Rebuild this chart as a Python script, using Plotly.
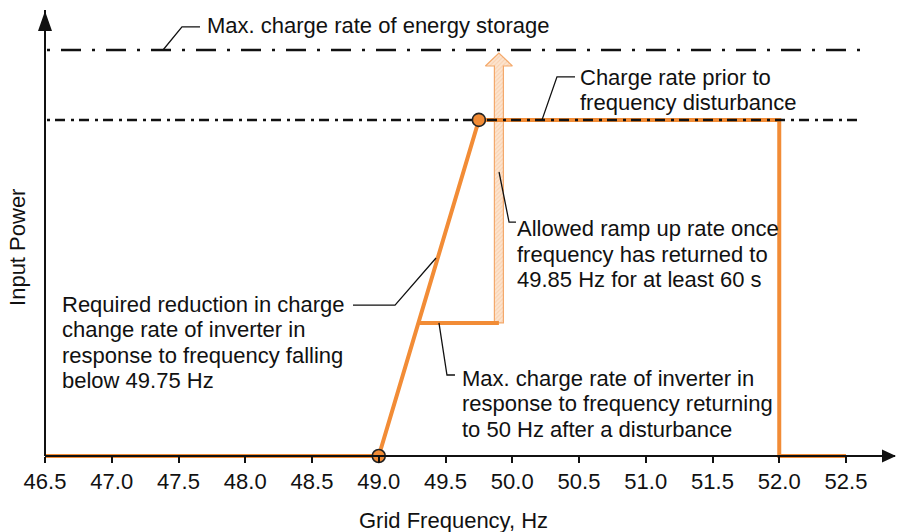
import plotly.graph_objects as go

# Charge-rate profile of the storage inverter versus grid frequency
freq_hz = [46.5, 49.0, 49.75, 52.0, 52.0, 52.5]
input_power = [0.0, 0.0, 1.0, 1.0, 0.0, 0.0]

# Highlighted break points of the profile
knee_hz = [49.0, 49.75]
knee_power = [0.0, 1.0]

# Reduced charge plateau once frequency recovers, and where ramp-up is allowed
plateau_level = 0.396
ramp_up_hz = 49.9

# Horizontal reference levels
max_storage_rate = 1.208
prior_charge_rate = 1.0
ref_line_hz = [46.515, 52.62]

tick_vals = [46.5, 47.0, 47.5, 48.0, 48.5, 49.0, 49.5, 50.0, 50.5, 51.0, 51.5, 52.0, 52.5]
tick_text = [f"{v:.1f}" for v in tick_vals]

# ---- layout geometry ----
W, H = 897, 532
M_L, M_R, M_T, M_B = 45, 2, 10, 70
PLOT_W = W - M_L - M_R
PLOT_H = H - M_T - M_B
PAD_PX = 6                       # room under the zero level so the profile is not clipped
X_MIN, X_MAX = 46.5, 52.867
Y_TOP = 1.327
unit_per_px_y = Y_TOP / (PLOT_H - PAD_PX)
unit_per_px_x = (X_MAX - X_MIN) / PLOT_W
Y_MIN = -PAD_PX * unit_per_px_y
zero_frac = PAD_PX / PLOT_H

FONT = "Liberation Sans, Arial, sans-serif"
ORANGE = "#F28C36"
INK = "#111111"

fig = go.Figure()

# Hollow "allowed ramp up" arrow from the plateau to the storage limit
shaft_hw = 4.5 * unit_per_px_x
head_hw = 13.5 * unit_per_px_x
head_h = 13 * unit_per_px_y
tip = max_storage_rate - 3 * unit_per_px_y
arrow_x = [ramp_up_hz - shaft_hw, ramp_up_hz - shaft_hw, ramp_up_hz - head_hw, ramp_up_hz,
           ramp_up_hz + head_hw, ramp_up_hz + shaft_hw, ramp_up_hz + shaft_hw, ramp_up_hz - shaft_hw]
arrow_y = [plateau_level, tip - head_h, tip - head_h, tip,
           tip - head_h, tip - head_h, plateau_level, plateau_level]
fig.add_trace(go.Scatter(
    x=arrow_x, y=arrow_y, mode="lines", fill="toself",
    fillcolor="#FCE4CF",
    fillpattern=dict(shape="/", bgcolor="#FCE4CF", fgcolor="#F5BD90", size=3, solidity=0.35),
    line=dict(color="#F4A96B", width=1.2),
))

# Main profile
fig.add_trace(go.Scatter(x=freq_hz, y=input_power, mode="lines",
                         line=dict(color=ORANGE, width=4)))

# Plateau starts where it meets the falling-frequency ramp
plateau_start = knee_hz[0] + (knee_hz[1] - knee_hz[0]) * (plateau_level - knee_power[0]) / (knee_power[1] - knee_power[0])
fig.add_trace(go.Scatter(x=[plateau_start, ramp_up_hz], y=[plateau_level, plateau_level], mode="lines",
                         line=dict(color=ORANGE, width=4)))

# Dash-dot reference levels
fig.add_trace(go.Scatter(x=ref_line_hz, y=[max_storage_rate] * 2, mode="lines",
                         line=dict(color=INK, width=2.5, dash="3px,11px,20px,11px")))
fig.add_trace(go.Scatter(x=ref_line_hz, y=[prior_charge_rate] * 2, mode="lines",
                         line=dict(color=INK, width=2.5, dash="3px,5px,10px,6px")))

# Callout leaders
leaders = [
    ([47.384, 47.526, 47.661], [max_storage_rate, 1.277, 1.277]),
    ([50.223, 50.335, 50.470], [prior_charge_rate, 1.128, 1.128]),
    ([49.901, 49.976, 50.028], [0.845, 0.696, 0.696]),
    ([49.429, 49.122, 48.807], [0.589, 0.449, 0.449]),
    ([49.451, 49.511, 49.571], [plateau_level, 0.241, 0.241]),
]
for lx, ly in leaders:
    fig.add_trace(go.Scatter(x=lx, y=ly, mode="lines", line=dict(color=INK, width=1.3)))

# Break-point markers
fig.add_trace(go.Scatter(x=knee_hz, y=knee_power, mode="markers", cliponaxis=False,
                         marker=dict(size=13, color=ORANGE, line=dict(color="#222222", width=1.6))))

# Callout texts: (left x, first-line y, lines)
LINE_STEP = 25.5 * unit_per_px_y
callouts = [
    (47.695, 1.281, ["Max. charge rate of energy storage"]),
    (50.492, 1.1265, ["Charge rate prior to", "frequency disturbance"]),
    (50.021, 0.6756, ["Allowed ramp up rate once", "frequency has returned to", "49.85 Hz for at least 60 s"]),
    (46.614, 0.451, ["Required reduction in charge", "change rate of inverter in",
                     "response to frequency falling", "below 49.75 Hz"]),
    (49.611, 0.232, ["Max. charge rate of inverter in", "response to frequency returning",
                     "to 50 Hz after a disturbance"]),
]
annotations = []
for cx, cy, lines in callouts:
    for i, txt in enumerate(lines):
        annotations.append(dict(x=cx, y=cy - i * LINE_STEP, xref="x", yref="y", text=txt,
                                showarrow=False, xanchor="left", yanchor="middle", align="left",
                                font=dict(family=FONT, size=22, color=INK)))

# Axis titles
annotations.append(dict(x=0.481, y=-0.1305, xref="paper", yref="paper", text="Grid Frequency, Hz",
                        showarrow=False, xanchor="center", yanchor="middle",
                        font=dict(family=FONT, size=22, color=INK)))
annotations.append(dict(x=-0.0318, y=0.4757, xref="paper", yref="paper", text="Input Power",
                        showarrow=False, textangle=-90, xanchor="center", yanchor="middle",
                        font=dict(family=FONT, size=22, color=INK)))

shapes = [
    # vertical axis line from the zero level up to the top
    dict(type="line", xref="paper", yref="paper", x0=0, x1=0, y0=zero_frac, y1=1,
         line=dict(color=INK, width=2)),
    # arrow heads on both axes
    dict(type="path", xref="paper", yref="paper", xsizemode="pixel", ysizemode="pixel",
         xanchor=0, yanchor=1, path="M 0,-1 L -7,-21 L 7,-21 Z",
         fillcolor=INK, line=dict(width=0)),
    dict(type="path", xref="paper", yref="paper", xsizemode="pixel", ysizemode="pixel",
         xanchor=1, yanchor=zero_frac, path="M 1,0 L -13,6.5 L -13,-6.5 Z",
         fillcolor=INK, line=dict(width=0)),
]

fig.update_layout(
    width=W, height=H,
    margin=dict(l=M_L, r=M_R, t=M_T, b=M_B, pad=0),
    paper_bgcolor="white", plot_bgcolor="white",
    showlegend=False, hovermode=False,
    font=dict(family=FONT, size=22, color=INK),
    xaxis=dict(range=[X_MIN, X_MAX], anchor="free", position=zero_frac,
               showline=True, linecolor=INK, linewidth=2,
               tickvals=tick_vals, ticktext=tick_text, ticks="outside", ticklen=6, tickwidth=2,
               tickcolor=INK, tickfont=dict(family=FONT, size=22, color=INK),
               showgrid=False, zeroline=False, fixedrange=True),
    yaxis=dict(range=[Y_MIN, Y_TOP], showline=False, showticklabels=False, ticks="",
               showgrid=False, zeroline=False, fixedrange=True),
    annotations=annotations,
    shapes=shapes,
)

fig.write_html("out.html")
